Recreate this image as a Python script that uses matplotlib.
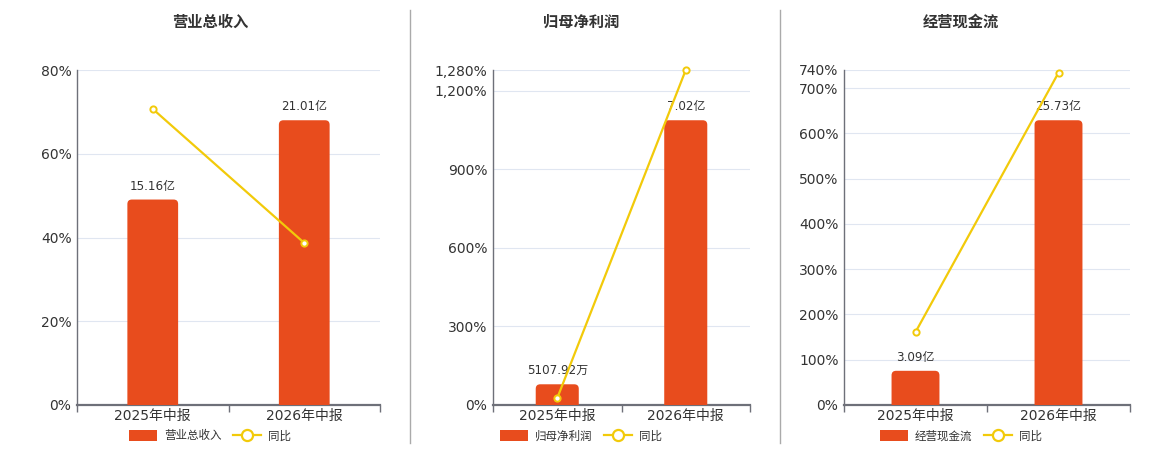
import matplotlib
matplotlib.use("Agg")
import matplotlib.pyplot as plt
from matplotlib.patches import FancyBboxPatch, Patch
from matplotlib.lines import Line2D
from matplotlib.ticker import FuncFormatter, FixedLocator

plt.rcParams['font.family'] = ['DejaVu Sans', 'Noto Sans CJK SC']

categories = ["2025年中报", "2026年中报"]

titles = ["营业总收入", "归母净利润", "经营现金流"]
bar_values = [[15.16, 21.01], [0.510792, 7.02], [3.09, 25.73]]
bar_labels = [["15.16亿", "21.01亿"], ["5107.92万", "7.02亿"], ["3.09亿", "25.73亿"]]
yoy_values = [[70.7, 38.7], [26.5, 1280.0], [161.0, 734.0]]
y_ticks = [[0, 20, 40, 60, 80],
           [0, 300, 600, 900, 1200, 1280],
           [0, 100, 200, 300, 400, 500, 600, 700, 740]]
y_max = [80, 1280, 740]

W, H = 1160, 450
panels_px = [(77, 380), (493, 750), (844, 1130)]
centers_px = [210, 581, 961]
top_px, bot_px = 70, 405

BAR = "#E84C1D"
LINE = "#F2CA0A"
AXC = "#6E7079"
GRID = "#E0E6F1"
TXT = "#333333"

fig = plt.figure(figsize=(W / 100, H / 100), dpi=100)

for i in range(3):
    l, r = panels_px[i]
    rect = [l / W, (H - bot_px) / H, (r - l) / W, (bot_px - top_px) / H]
    ax = fig.add_axes(rect, zorder=0)
    axb = fig.add_axes(rect, zorder=1)
    axl = fig.add_axes(rect, zorder=2, sharey=ax)
    for a in (ax, axb, axl):
        a.set_xlim(-0.5, 1.5)
    ax.set_ylim(0, y_max[i])

    # grid axis
    ax.yaxis.set_major_locator(FixedLocator(y_ticks[i]))
    ax.yaxis.set_major_formatter(FuncFormatter(lambda v, p: f"{int(v):,}%"))
    ax.grid(axis='y', color=GRID, linewidth=0.8)
    ax.set_axisbelow(True)
    for s in ('top', 'right'):
        ax.spines[s].set_visible(False)
    ax.spines['left'].set_color(AXC)
    ax.spines['left'].set_linewidth(1.0)
    ax.spines['bottom'].set_color(AXC)
    ax.spines['bottom'].set_linewidth(1.6)
    ax.tick_params(axis='y', length=0, labelsize=10, labelcolor=TXT, pad=4)
    ax.set_xticks([0, 1])
    ax.set_xticklabels(categories)
    ax.tick_params(axis='x', which='major', length=0, labelsize=10, labelcolor=TXT, pad=3)
    ax.set_xticks([-0.5, 0.5, 1.5], minor=True)
    ax.tick_params(axis='x', which='minor', length=5, color=AXC, width=1)

    # bar axis
    axb.set_axis_off()
    axb.patch.set_visible(False)
    axb.set_ylim(0, max(bar_values[i]) / 0.85)
    bars = axb.bar([0, 1], bar_values[i], width=0.335, color=BAR)
    fig.canvas.draw()
    x0, x1 = axb.get_xlim()
    y0, y1 = axb.get_ylim()
    bb = axb.get_window_extent()
    xu = (x1 - x0) / bb.width
    yu = (y1 - y0) / bb.height
    rad = 4.5 * xu
    for b in bars:
        bx, by, bw, bh = b.get_x(), b.get_y(), b.get_width(), b.get_height()
        b.set_visible(False)
        p = FancyBboxPatch((bx, by - 6 * yu), bw, bh + 6 * yu,
                           boxstyle=f"round,pad=0,rounding_size={rad}",
                           mutation_aspect=yu / xu, facecolor=BAR,
                           edgecolor='none', clip_on=True)
        axb.add_patch(p)
        p.set_clip_path(axb.patch)
    for j, b in enumerate(bars):
        axb.annotate(bar_labels[i][j], (b.get_x() + b.get_width() / 2, b.get_height()),
                     xytext=(0, 5), textcoords='offset points', ha='center', va='bottom',
                     fontsize=8.6, color=TXT)

    # line axis
    axl.set_axis_off()
    axl.patch.set_visible(False)
    axl.plot([0, 1], yoy_values[i], color=LINE, linewidth=1.6, marker='o',
             markersize=4.5, markerfacecolor='white', markeredgecolor=LINE,
             markeredgewidth=1.4, clip_on=False)

    # title
    fig.text(centers_px[i] / W, 1 - 22 / H, titles[i], ha='center', va='center',
             fontsize=11, fontweight='bold', color=TXT, family=['Noto Sans CJK SC'])

    # legend
    handles = [Patch(facecolor=BAR, edgecolor='none'),
               Line2D([0], [0], color=LINE, linewidth=1.6, marker='o', markersize=8,
                      markerfacecolor='white', markeredgecolor=LINE, markeredgewidth=1.6)]
    leg = fig.legend(handles, [titles[i], "同比"], loc='center',
                     bbox_to_anchor=(centers_px[i] / W, 1 - 436 / H), ncol=2,
                     frameon=False, fontsize=8.3, handlelength=2.4, handleheight=1.0,
                     columnspacing=1.0, handletextpad=0.6,
                     prop={'family': ['Noto Sans CJK SC'], 'size': 8.3})
    for t in leg.get_texts():
        t.set_color(TXT)

# dividers
for xp in (410, 780):
    fig.add_artist(Line2D([xp / W, xp / W], [1 - 10 / H, 1 - 443 / H],
                          color="#AAAAAA", linewidth=1.0))

fig.savefig("out.png", dpi=100)
